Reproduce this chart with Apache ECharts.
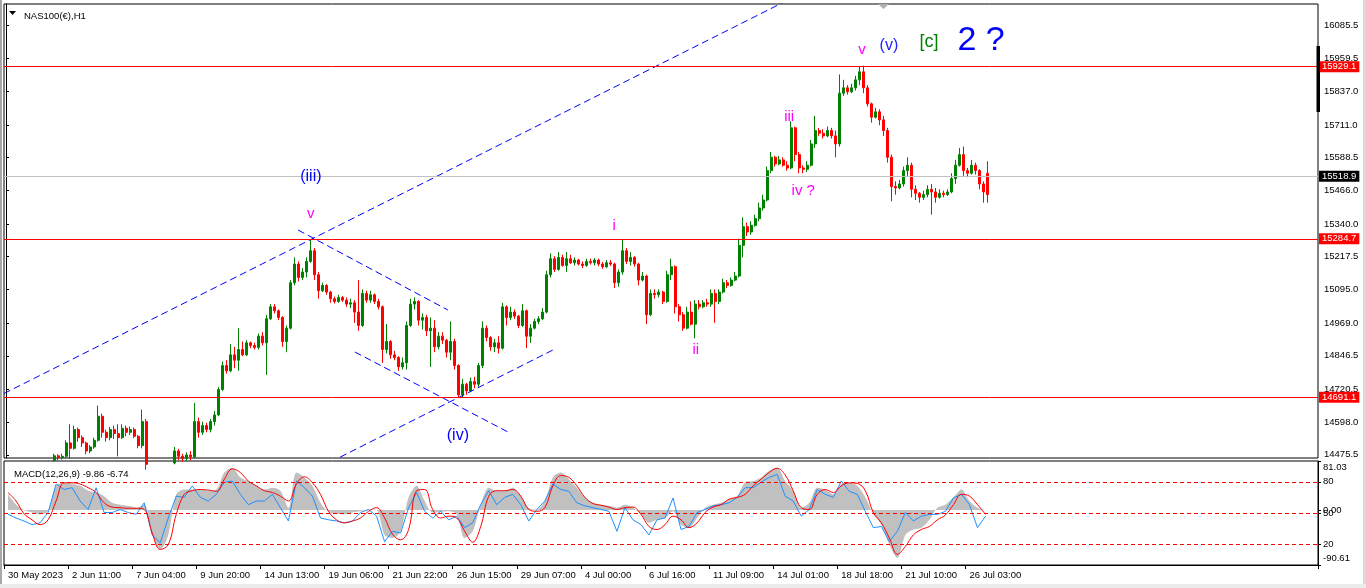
<!DOCTYPE html>
<html><head><meta charset="utf-8">
<script src="https://cdn.jsdelivr.net/npm/echarts@6/dist/echarts.min.js"></script>
<style>html,body{margin:0;padding:0;background:#fff;}#c{width:1366px;height:588px;}</style>
</head><body><div id="c"></div>
<script>
// ---------- DATA ----------
const symbolTitle = 'NAS100(€),H1';
const macdTitle = 'MACD(12,26,9) -9.86 -6.74';
const priceTicks = [16085.5,15959.5,15837.0,15711.0,15588.5,15466.0,15340.0,15217.5,15095.0,14969.0,14846.5,14720.5,14598.0,14475.5];
const priceMin = 14463.7, priceMax = 16163.9;
const priceLevels = [15929.1, 15284.7, 14691.1];
const currentPrice = 15518.9;
const macdTicks = [81.03, 0, -90.61];
const levelTicks = [80, 50, 20];
const timeLabels = ['30 May 2023','2 Jun 11:00','7 Jun 04:00','9 Jun 20:00','14 Jun 13:00','19 Jun 06:00','21 Jun 22:00','26 Jun 15:00','29 Jun 07:00','4 Jul 00:00','6 Jul 16:00','11 Jul 09:00','14 Jul 01:00','18 Jul 18:00','21 Jul 10:00','26 Jul 03:00'];
// [open, close, low, high]
const candles = [
[14420,14410,14395,14435],[14410,14400,14385,14425],[14400,14415,14390,14430],[14415,14405,14392,14428],
[14405,14395,14380,14418],[14395,14390,14375,14410],[14390,14400,14378,14412],[14400,14395,14385,14415],
[14395,14410,14388,14425],[14410,14425,14400,14440],[14425,14440,14415,14452],[14440,14450,14430,14458],
[14455,14472,14450,14480],[14472,14465,14455,14478],[14465,14470,14458,14480],[14470,14520,14462,14530],
[14520,14500,14460,14590],[14500,14570,14495,14585],[14570,14540,14525,14578],[14540,14520,14505,14548],
[14520,14490,14478,14525],[14490,14505,14482,14512],[14505,14530,14498,14540],[14530,14620,14525,14660],
[14620,14560,14540,14630],[14560,14540,14525,14570],[14540,14570,14530,14580],[14570,14555,14535,14585],
[14555,14540,14470,14590],[14540,14575,14535,14590],[14575,14560,14545,14585],[14560,14570,14550,14582],
[14570,14545,14538,14578],[14545,14510,14500,14550],[14510,14600,14500,14645],[14600,14440,14420,14610],
[14440,14425,14410,14452],[14425,14415,14400,14440],[14415,14430,14405,14445],[14430,14420,14408,14448],
[14420,14435,14412,14450],[14435,14445,14425,14455],[14445,14490,14440,14505],[14490,14470,14455,14498],
[14470,14462,14450,14480],[14462,14475,14452,14485],[14475,14468,14455,14490],[14468,14600,14462,14670],
[14600,14560,14540,14615],[14560,14585,14550,14600],[14585,14570,14560,14595],[14570,14600,14560,14610],
[14600,14625,14585,14640],[14625,14720,14620,14730],[14720,14810,14715,14825],[14810,14790,14780,14830],
[14790,14850,14785,14890],[14850,14830,14800,14880],[14830,14870,14790,14950],[14870,14850,14845,14900],
[14850,14895,14845,14905],[14895,14885,14875,14900],[14885,14878,14870,14895],[14878,14920,14870,14930],
[14920,14895,14885,14935],[14895,14985,14775,15000],[14985,15030,14980,15040],[15030,15015,15005,15040],
[15015,14990,14980,15020],[14990,14900,14880,14995],[14900,14950,14860,14960],[14950,15120,14945,15130],
[15120,15190,15110,15215],[15190,15140,15125,15200],[15140,15160,15130,15175],[15160,15200,15140,15215],
[15200,15240,15195,15280],[15240,15150,15130,15250],[15150,15090,15060,15160],[15090,15110,15085,15120],
[15110,15085,15075,15115],[15085,15060,15045,15090],[15060,15050,15042,15068],[15050,15065,15045,15075],
[15065,15055,15048,15070],[15055,15040,15030,15065],[15040,15045,15025,15060],[15045,15010,14970,15055],
[15010,14960,14940,15130],[14960,15080,14955,15095],[15080,15055,15045,15090],[15055,15075,15045,15090],
[15075,15050,15040,15080],[15050,15030,15020,15060],[15030,14870,14820,15035],[14870,14900,14855,14965],
[14900,14850,14835,14905],[14850,14840,14830,14865],[14840,14805,14790,14845],[14805,14820,14795,14840],
[14820,14960,14795,14975],[14960,15040,14955,15060],[15040,15050,15020,15065],[15050,14980,14960,15055],
[14980,14990,14945,15005],[14990,14940,14920,15000],[14940,14950,14805,14990],[14950,14880,14860,14980],
[14880,14920,14870,14935],[14920,14905,14890,14935],[14905,14860,14840,14910],[14860,14900,14830,14975],
[14900,14810,14795,14910],[14810,14700,14690,14815],[14700,14740,14692,14760],[14740,14715,14700,14745],
[14715,14750,14710,14765],[14750,14740,14725,14768],[14740,14810,14730,14820],[14810,14950,14800,14975],
[14950,14915,14900,14960],[14915,14880,14865,14920],[14880,14895,14860,14910],[14895,14875,14855,14920],
[14875,15030,14870,15045],[15030,14990,14960,15035],[14990,15010,14980,15030],[15010,14995,14985,15020],
[14995,14960,14950,15000],[14960,15015,14955,15040],[15015,14920,14875,15020],[14920,14950,14895,14965],
[14950,14975,14945,14985],[14975,14985,14965,14995],[14985,15010,14980,15025],[15010,15150,15005,15165],
[15150,15210,15140,15230],[15210,15170,15160,15220],[15170,15215,15165,15235],[15215,15185,15180,15225],
[15185,15210,15160,15235],[15210,15195,15190,15225],[15195,15205,15185,15215],[15205,15190,15185,15210],
[15190,15185,15175,15200],[15185,15200,15180,15210],[15200,15195,15188,15210],[15195,15205,15185,15212],
[15205,15190,15182,15210],[15190,15180,15172,15198],[15180,15195,15175,15205],[15195,15190,15183,15205],
[15190,15120,15100,15195],[15120,15160,15105,15170],[15160,15240,15150,15280],[15240,15200,15190,15250],
[15200,15215,15185,15235],[15215,15190,15180,15220],[15190,15130,15110,15195],[15130,15145,15125,15160],
[15145,15000,14965,15150],[15000,15080,14995,15095],[15080,15075,15060,15095],[15075,15085,15065,15095],
[15085,15050,15040,15090],[15050,15150,15045,15165],[15150,15180,15130,15210],[15180,15030,15005,15185],
[15030,15000,14975,15040],[15000,14950,14940,15010],[14950,15010,14945,15030],[15010,14965,14960,15050],
[14965,15040,14912,15055],[15040,15030,15020,15055],[15030,15045,15025,15055],[15045,15040,15030,15060],
[15040,15080,15030,15095],[15080,15050,14970,15095],[15050,15085,15040,15095],[15085,15120,15080,15135],
[15120,15110,15100,15130],[15110,15130,15105,15140],[15130,15145,15125,15160],[15145,15260,15140,15285],
[15260,15330,15215,15365],[15330,15310,15295,15345],[15310,15335,15300,15350],[15335,15360,15330,15375],
[15360,15400,15350,15420],[15400,15430,15390,15450],[15430,15540,15425,15555],[15540,15590,15530,15610],
[15590,15565,15555,15595],[15565,15580,15560,15595],[15580,15560,15555,15590],[15560,15550,15540,15575],
[15550,15700,15545,15725],[15700,15600,15575,15705],[15600,15550,15530,15610],[15550,15545,15530,15560],
[15545,15560,15535,15575],[15560,15640,15555,15655],[15640,15690,15625,15745],[15690,15680,15670,15700],
[15680,15670,15660,15695],[15670,15690,15665,15705],[15690,15670,15660,15700],[15670,15640,15590,15690],
[15640,15830,15630,15900],[15830,15850,15820,15880],[15850,15835,15825,15860],[15835,15850,15830,15865],
[15850,15880,15840,15895],[15880,15910,15860,15930],[15910,15850,15830,15933],[15850,15790,15780,15860],
[15790,15740,15720,15795],[15740,15760,15735,15775],[15760,15730,15710,15770],[15730,15690,15670,15745],
[15690,15590,15570,15700],[15590,15480,15425,15600],[15480,15475,15450,15500],[15475,15490,15470,15505],
[15490,15540,15480,15555],[15540,15560,15520,15590],[15560,15470,15440,15570],[15470,15455,15430,15485],
[15455,15440,15420,15460],[15440,15450,15430,15465],[15450,15470,15440,15485],[15470,15460,15375,15490],
[15460,15440,15420,15475],[15440,15455,15435,15470],[15455,15450,15440,15465],[15450,15460,15445,15470],
[15460,15510,15455,15530],[15510,15560,15490,15580],[15560,15600,15555,15625],[15600,15540,15520,15630],
[15540,15530,15515,15550],[15530,15560,15525,15580],[15560,15540,15525,15570],[15540,15490,15470,15545],
[15490,15460,15420,15500],[15530,15450,15420,15575]
];
const macdHist = [26,9,0,-4,-7,-2,40,45,43,40,32,29,23,12,9,7,4,9,-41,-65,-41,26,34,34,34,32,34,62,70,54,48,40,34,37,32,4,62,54,40,12,-3,-6,-7,-4,-2,1,0,-41,-46,-35,21,40,15,-4,-3,-2,-7,-46,-35,9,37,32,
32,37,23,4,1,15,54,62,51,37,21,12,9,7,4,9,4,-7,-21,-16,-13,-2,-24,-29,-13,4,9,12,18,23,46,48,54,65,70,48,32,4,12,37,34,26,43,45,40,21,-7,-24,-57,-79,-41,-32,-29,-16,4,9,21,34,15,4,0];
const macdSignal = [29,15,-6,-16,-24,-16,15,45,45,43,37,29,12,5,4,3,3,1,-38,-65,-57,-7,26,32,34,33,31,51,68,62,48,40,32,29,23,15,43,55,45,26,-2,-16,-21,-18,-13,-2,4,-13,-40,-49,-32,32,34,1,-13,-10,-13,-35,-53,-27,23,32,
32,34,23,1,-2,4,40,57,54,40,21,11,8,5,1,4,5,-7,-27,-32,-24,-10,-16,-29,-21,-4,5,9,18,21,26,40,51,62,69,58,32,4,1,26,34,29,40,45,44,32,-4,-21,-46,-73,-60,-41,-32,-27,-16,-8,9,26,23,9,-7];
const macdMain = [-7,-13,-18,-24,-21,-4,43,34,37,15,1,37,-4,-4,1,-4,-7,12,-41,-54,-13,23,21,40,21,15,26,46,48,26,9,15,15,26,4,-18,48,37,23,-13,-16,-18,-21,-18,-4,1,-10,-52,-35,-38,4,29,-2,-13,-2,-16,-10,-29,-21,9,32,9,
21,26,9,-18,1,15,43,34,31,12,7,4,1,-2,-35,4,-16,-24,-41,-16,-13,20,-32,-27,-4,1,7,9,12,21,37,37,46,54,59,23,15,-10,1,34,26,21,48,31,26,-2,-29,-27,-52,-35,-4,-18,-10,-7,-7,-2,20,26,9,-29,-10];
// trend lines: [[barIndex, price],[barIndex, price]]
const trendLines = [
  [[-0.5,14705.2],[200,16215]],
  [[83.4,14467],[136.5,14868]],
  [[72.9,15317.5],[110.3,15017.9]],
  [[87.1,14860.6],[125.3,14561.1]]
];
// wave labels: [text, barIndex, price, kind]
const waveLabels = [
  ['(iii)',76.1,15516,'blue'],
  ['v',76.1,15377.5,'minor'],
  ['(iv)',112.8,14546,'blue'],
  ['i',151.8,15332.5,'minor'],
  ['ii',172.2,14868.2,'minor'],
  ['iii',195.5,15740.7,'minor'],
  ['iv ?',199,15463.6,'minor'],
  ['v',213.7,15991.6,'minor'],
  ['(v)',220.4,16006.6,'blue2'],
  ['[c]',230.4,16021.6,'green'],
  ['2 ?',243.4,16025.4,'big']
];

// ---------- STYLE / LAYOUT ----------
const FONT = 'Liberation Sans';
const NBARS = 328, NMACD = 164;
const candleCats = Array.from({length:NBARS},(_,i)=>String(i));
const macdCats = Array.from({length:NMACD},(_,k)=> (k%8===0 && timeLabels[k/8]) ? timeLabels[k/8] : '');
const labelStyles = {
  blue:{color:'#0000ff',fontSize:16},
  blue2:{color:'#2020ff',fontSize:16},
  minor:{color:'#ff00ff',fontSize:15},
  green:{color:'#008000',fontSize:18},
  big:{color:'#0000ff',fontSize:34}
};
const tickFn = (i)=> i%8===0 && i/8 < timeLabels.length;

const levelMark = (v,line,bg)=>({yAxis:v, lineStyle:{color:line,width:1,type:'solid'},
  label:{show:true,position:'end',distance:1,backgroundColor:bg,color:'#fff',fontFamily:FONT,fontSize:9.5,
    padding:[1,3,0,3],lineHeight:10,formatter:p=>Number(p.value).toFixed(1)}});

const chart = echarts.init(document.getElementById('c'));
const option = {
  animation:false,
  backgroundColor:'#fff',
  textStyle:{fontFamily:FONT},
  title:[
    {text:symbolTitle,left:19,top:6,textStyle:{fontSize:9.5,fontWeight:'normal',color:'#000',fontFamily:FONT}},
    {text:macdTitle,left:9,top:464,textStyle:{fontSize:9.5,fontWeight:'normal',color:'#000',fontFamily:FONT}}
  ],
  grid:[
    {left:4,right:48,top:4,height:454,show:true,borderColor:'#000',borderWidth:1,backgroundColor:'#fff',outerBoundsMode:'none'},
    {left:4,right:48,top:461,height:104,show:true,borderColor:'#000',borderWidth:1,backgroundColor:'#fff',outerBoundsMode:'none'}
  ],
  xAxis:[
    {type:'category',gridIndex:0,data:candleCats,show:false,boundaryGap:true},
    {type:'value',gridIndex:0,min:-0.5,max:NBARS-0.5,show:false},
    {type:'category',gridIndex:1,data:macdCats,boundaryGap:true,position:'bottom',
      axisLine:{show:true,onZero:false,lineStyle:{color:'#000'}},
      axisTick:{show:true,interval:tickFn,length:4,lineStyle:{color:'#000'}},
      axisLabel:{show:true,interval:tickFn,align:'left',margin:5,color:'#000',fontSize:9.5,fontFamily:FONT,hideOverlap:false},
      splitLine:{show:false}}
  ],
  yAxis:[
    {type:'value',gridIndex:0,position:'right',min:priceMin,max:priceMax,scale:true,
      axisLine:{show:true,lineStyle:{color:'#000'}},
      axisTick:{show:true,customValues:priceTicks,length:3,lineStyle:{color:'#000'}},
      axisLabel:{show:true,customValues:priceTicks,margin:6,color:'#000',fontSize:9.5,fontFamily:FONT,
        formatter:v=>Number(v).toFixed(1)},
      splitLine:{show:false}},
    {type:'value',gridIndex:1,position:'right',min:macdTicks[2],max:macdTicks[0],
      axisLine:{show:true,onZero:false,lineStyle:{color:'#000'}},
      axisTick:{show:true,customValues:macdTicks,length:3,lineStyle:{color:'#000'}},
      axisLabel:{show:true,customValues:macdTicks,margin:5,color:'#000',fontSize:9.5,fontFamily:FONT,
        formatter:v=> v===macdTicks[0] ? '{t|'+v.toFixed(2)+'}' : (v===macdTicks[2] ? '{b|'+v.toFixed(2)+'}' : '{m|'+Number(v).toFixed(2)+'}'),
        rich:{t:{padding:[12,0,0,0],fontSize:9.5,fontFamily:FONT,color:'#000'},
              b:{padding:[0,0,13,0],fontSize:9.5,fontFamily:FONT,color:'#000'},
              m:{fontSize:9.5,fontFamily:FONT,color:'#000'}}},
      splitLine:{show:false}},
    {type:'value',gridIndex:1,position:'right',min:0,max:100,
      axisLine:{show:false,onZero:false},
      axisTick:{show:true,customValues:levelTicks,length:3,lineStyle:{color:'#000'}},
      axisLabel:{show:true,customValues:levelTicks,margin:5,color:'#000',fontSize:9.5,fontFamily:FONT},
      splitLine:{show:false}}
  ],
  graphic:[
    {type:'polygon',shape:{points:[[9,11],[16,11],[12.5,15]]},style:{fill:'#000'},z:100},
    {type:'polygon',shape:{points:[[878,4],[889,4],[883.5,9]]},style:{fill:'#b0b0b0'},z:100},
    {type:'rect',shape:{x:1316.5,y:46,width:3.5,height:66},style:{fill:'#000'},z:100},
    {type:'rect',shape:{x:0,y:0,width:2,height:588},style:{fill:'#a8a8a8'},z:100},
    {type:'rect',shape:{x:1363,y:0,width:3,height:588},style:{fill:'#d8d8d8'},z:100},
    {type:'rect',shape:{x:0,y:584,width:1366,height:4},style:{fill:'#ececec'},z:100}
  ],
  series:[
    {type:'candlestick',xAxisIndex:0,yAxisIndex:0,data:candles,barWidth:2.5,clip:true,
      itemStyle:{color:'#008000',color0:'#ff0000',borderColor:'#008000',borderColor0:'#ff0000',borderWidth:1},
      markLine:{silent:true,symbol:['none','none'],animation:false,
        data:[...priceLevels.map(v=>levelMark(v,'#ff0000','#ff0000')), levelMark(currentPrice,'#c0c0c0','#000')]}},
    ...trendLines.map(tl=>({type:'line',xAxisIndex:1,yAxisIndex:0,data:tl,symbol:'none',clip:true,silent:true,z:3,
      lineStyle:{color:'#0000ff',width:1,type:[7,4]}})),
    {type:'scatter',xAxisIndex:1,yAxisIndex:0,symbol:'circle',symbolSize:2,silent:true,z:5,
      itemStyle:{color:'rgba(255,255,255,0)',opacity:1},
      data:waveLabels.map(w=>({value:[w[1],w[2]],name:w[0],
        itemStyle:{opacity:1},
        label:{show:true,position:'inside',formatter:w[0],fontFamily:FONT,opacity:1,
          color:labelStyles[w[3]].color,fontSize:labelStyles[w[3]].fontSize}}))},
    {type:'line',xAxisIndex:2,yAxisIndex:1,data:macdHist,symbol:'none',smooth:0.3,silent:true,
      lineStyle:{width:0,color:'#c0c0c0'},areaStyle:{color:'#c0c0c0',opacity:1,origin:0},z:1},
    {type:'line',xAxisIndex:2,yAxisIndex:2,data:[],symbol:'none',silent:true,
      markLine:{silent:true,symbol:['none','none'],label:{show:false},animation:false,
        lineStyle:{color:'#ff0000',width:1,type:[4,3]},
        data:levelTicks.map(v=>({yAxis:v}))},z:2},
    {type:'line',xAxisIndex:2,yAxisIndex:1,data:macdMain,symbol:'none',silent:true,
      lineStyle:{color:'#1e90ff',width:1},z:3},
    {type:'line',xAxisIndex:2,yAxisIndex:1,data:macdSignal,symbol:'none',smooth:0.4,silent:true,
      lineStyle:{color:'#ff0000',width:1},z:4}
  ]
};
chart.setOption(option);
</script></body></html>
